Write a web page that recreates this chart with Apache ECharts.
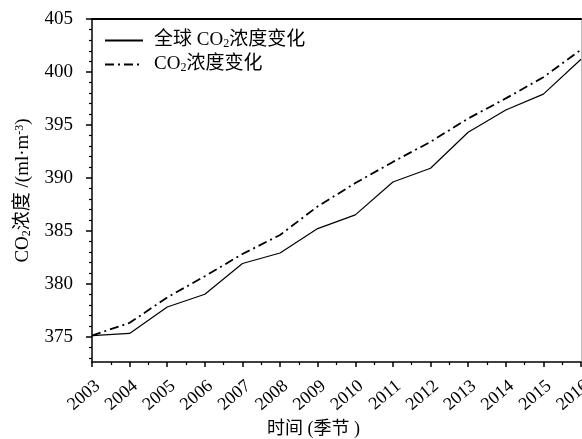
<!DOCTYPE html>
<html>
<head>
<meta charset="utf-8">
<script src="https://cdn.jsdelivr.net/npm/echarts@6/dist/echarts.min.js"></script>
<style>html,body{margin:0;padding:0;background:#fff}#c{width:582px;height:439px}</style>
</head>
<body>
<div id="c"></div>
<script>
const years = [2003,2004,2005,2006,2007,2008,2009,2010,2011,2012,2013,2014,2015,2016];
const globalCO2 = [375.1,375.3,377.8,379.0,381.9,382.9,385.2,386.5,389.6,390.9,394.3,396.4,397.9,401.2];
const localCO2 = [375.1,376.3,378.7,380.7,382.8,384.6,387.3,389.5,391.5,393.4,395.6,397.5,399.5,402.1];
const yTickValues = [375,380,385,390,395,400,405];
const yMinorValues = [373,374,376,377,378,379,381,382,383,384,386,387,388,389,391,392,393,394,396,397,398,399,401,402,403,404];
const seriesNames = ['全球CO2浓度变化','CO2浓度变化'];

const SERIF = '"Liberation Serif","Noto Sans CJK SC",serif';
const chart = echarts.init(document.getElementById('c'), null, {renderer:'canvas'});
const yMin = 372.6, yMax = 405;

chart.setOption({
  animation:false,
  backgroundColor:'#fff',
  textStyle:{fontFamily:SERIF, color:'#000'},
  grid:{left:92, right:1, top:19, bottom:77, containLabel:false, outerBoundsMode:'none'},
  legend:{
    orient:'vertical', left:99, top:26, itemWidth:38, itemHeight:12, itemGap:5,
    data:seriesNames,
    itemStyle:{color:'rgba(0,0,0,0)', borderWidth:0},
    formatter: n => n.replace('全球CO2','全球 CO{s|2}').replace(/^CO2/,'CO{s|2}'),
    textStyle:{fontFamily:SERIF, fontSize:19, color:'#000', padding:[0,0,0,6],
      rich:{s:{fontFamily:SERIF, fontSize:12, verticalAlign:'bottom'}}}
  },
  xAxis:[{
    type:'value', min:years[0], max:years[years.length-1], interval:1,
    axisLine:{onZero:false, lineStyle:{color:'#000', width:1.5}},
    axisTick:{show:true, inside:false, length:5, lineStyle:{color:'#000', width:1.5}},
    minorTick:{show:true, splitNumber:2, length:3, lineStyle:{color:'#000', width:1.2}},
    splitLine:{show:false},
    axisLabel:{rotate:40, fontSize:18, margin:15, color:'#000', fontFamily:SERIF,
      align:'right', verticalAlign:'top',
      showMinLabel:true, showMaxLabel:true, formatter: v => String(v)},
    name:'时间 (季节 )', nameLocation:'middle', nameGap:57,
    nameTextStyle:{fontSize:18, fontFamily:SERIF, color:'#000', padding:[0,46,0,0]}
  },{
    type:'value', position:'top', min:years[0], max:years[years.length-1],
    axisLine:{show:true, lineStyle:{color:'#000', width:2}},
    axisTick:{show:false}, axisLabel:{show:false}, splitLine:{show:false}
  }],
  yAxis:[{
    type:'value', min:yMin, max:yMax,
    axisLine:{show:true, onZero:false, lineStyle:{color:'#000', width:1.5}},
    axisTick:{show:true, length:6, customValues:yTickValues, lineStyle:{color:'#000', width:1.5}},
    axisLabel:{customValues:yTickValues, fontSize:19, margin:19, color:'#000', fontFamily:SERIF},
    splitLine:{show:false},
    name:'{a|CO}{s|2}{a|浓度 /(ml·m}{p|-3}{a|)}', nameLocation:'middle', nameGap:59, nameRotate:90,
    nameTextStyle:{fontSize:19, fontFamily:SERIF, color:'#000',
      rich:{a:{fontSize:19, fontFamily:SERIF}, s:{fontSize:12, fontFamily:SERIF, verticalAlign:'bottom'},
            p:{fontSize:12, fontFamily:SERIF, verticalAlign:'top'}}}
  },{
    type:'value', min:yMin, max:yMax, position:'left',
    axisLine:{show:false},
    axisTick:{show:true, length:3, customValues:yMinorValues, lineStyle:{color:'#000', width:1.2}},
    axisLabel:{show:false}, splitLine:{show:false}
  },{
    type:'value', min:yMin, max:yMax, position:'right',
    axisLine:{show:true, lineStyle:{color:'#bbb', width:1}},
    axisTick:{show:false}, axisLabel:{show:false}, splitLine:{show:false}
  }],
  series:[{
    name:seriesNames[0], type:'line', symbol:'none', xAxisIndex:0, yAxisIndex:0,
    data: years.map((y,i)=>[y, globalCO2[i]]),
    lineStyle:{color:'#000', width:1.2, type:'solid'}, itemStyle:{color:'#000'}
  },{
    name:seriesNames[1], type:'line', symbol:'none', xAxisIndex:0, yAxisIndex:0,
    data: years.map((y,i)=>[y, localCO2[i]]),
    lineStyle:{color:'#000', width:1.8, type:[9,4,2,4]}, itemStyle:{color:'#000'}
  }]
});
</script>
</body>
</html>
